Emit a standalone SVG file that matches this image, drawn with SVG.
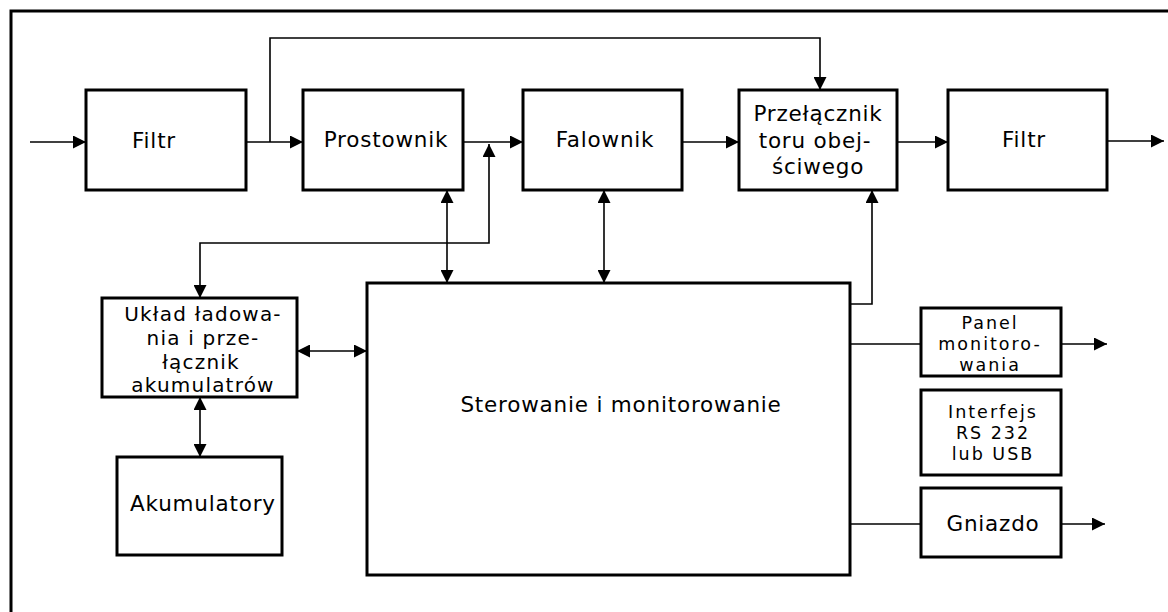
<svg xmlns="http://www.w3.org/2000/svg" width="1168" height="612" viewBox="0 0 1168 612">
<defs>
<marker id="ah" viewBox="0 0 13 13" refX="13" refY="6.5" markerWidth="13" markerHeight="13" markerUnits="userSpaceOnUse" orient="auto-start-reverse">
<path d="M0,0 L13,6.5 L0,13 Z" fill="#000"/>
</marker>
<style>
.box{fill:#fff;stroke:#000;stroke-width:3}
.ln{fill:none;stroke:#000;stroke-width:1.6}
.t{font-family:"DejaVu Sans",sans-serif;font-size:21.5px;letter-spacing:0.8px;fill:#000;text-anchor:middle}
.s{font-family:"DejaVu Sans",sans-serif;font-size:20px;letter-spacing:1.2px;fill:#000;text-anchor:middle}
.r{font-family:"DejaVu Sans",sans-serif;font-size:17.5px;letter-spacing:2px;fill:#000;text-anchor:middle}
</style>
</defs>
<rect width="1168" height="612" fill="#fff"/>
<path d="M11,620 V11 H1170" fill="none" stroke="#000" stroke-width="3"/>

<g id="connectors">
<path class="ln" d="M30,142 H86" marker-end="url(#ah)"/>
<path class="ln" d="M246,142 H303" marker-end="url(#ah)"/>
<path class="ln" d="M270,142 V38 H820 V90" marker-end="url(#ah)"/>
<path class="ln" d="M463,142 H523" marker-end="url(#ah)"/>
<path class="ln" d="M682,142 H739" marker-end="url(#ah)"/>
<path class="ln" d="M897,142 H948" marker-end="url(#ah)"/>
<path class="ln" d="M1107,141 H1164" marker-end="url(#ah)"/>
<path class="ln" d="M200,298 V243 H489 V144" marker-start="url(#ah)" marker-end="url(#ah)"/>
<path class="ln" d="M447,190 V283" marker-start="url(#ah)" marker-end="url(#ah)"/>
<path class="ln" d="M604,190 V283" marker-start="url(#ah)" marker-end="url(#ah)"/>
<path class="ln" d="M850,304 H872 V190" marker-end="url(#ah)"/>
<path class="ln" d="M297,351 H367" marker-start="url(#ah)" marker-end="url(#ah)"/>
<path class="ln" d="M200,397 V457" marker-start="url(#ah)" marker-end="url(#ah)"/>
<path class="ln" d="M850,344 H921"/>
<path class="ln" d="M1061,344 H1107" marker-end="url(#ah)"/>
<path class="ln" d="M850,524 H921"/>
<path class="ln" d="M1061,524 H1105" marker-end="url(#ah)"/>
</g>

<g id="filtr1"><rect class="box" x="86" y="90" width="160" height="100"/><text class="t" x="154" y="148">Filtr</text></g>
<g id="prostownik"><rect class="box" x="303" y="90" width="160" height="100"/><text class="t" x="386" y="147">Prostownik</text></g>
<g id="falownik"><rect class="box" x="523" y="90" width="159" height="100"/><text class="t" x="605" y="147">Falownik</text></g>
<g id="przelacznik"><rect class="box" x="739" y="90" width="158" height="100"/>
<text class="t" x="818" y="121">Przełącznik</text>
<text class="t" x="815" y="148">toru obej-</text>
<text class="t" x="818" y="174">ściwego</text></g>
<g id="filtr2"><rect class="box" x="948" y="90" width="159" height="100"/><text class="t" x="1024" y="147">Filtr</text></g>

<g id="uklad"><rect class="box" x="102" y="298" width="195" height="99"/>
<text class="s" x="203" y="321">Układ ładowa-</text>
<text class="s" x="203" y="345">nia i prze-</text>
<text class="s" x="201" y="369">łącznik</text>
<text class="s" x="203" y="392">akumulatrów</text></g>
<g id="akumulatory"><rect class="box" x="117" y="457" width="165" height="98"/><text class="t" x="203" y="511">Akumulatory</text></g>
<g id="sterowanie"><rect class="box" x="367" y="283" width="483" height="292"/><text class="t" x="621" y="412">Sterowanie i monitorowanie</text></g>
<g id="panel"><rect class="box" x="921" y="308" width="140" height="68"/>
<text class="r" x="990" y="329">Panel</text>
<text class="r" x="990" y="350">monitoro-</text>
<text class="r" x="990" y="371">wania</text></g>
<g id="interfejs"><rect class="box" x="921" y="390" width="140" height="85"/>
<text class="r" x="993" y="418">Interfejs</text>
<text class="r" x="993" y="439">RS 232</text>
<text class="r" x="993" y="460">lub USB</text></g>
<g id="gniazdo"><rect class="box" x="921" y="488" width="140" height="69"/><text class="t" x="993" y="531">Gniazdo</text></g>
</svg>
